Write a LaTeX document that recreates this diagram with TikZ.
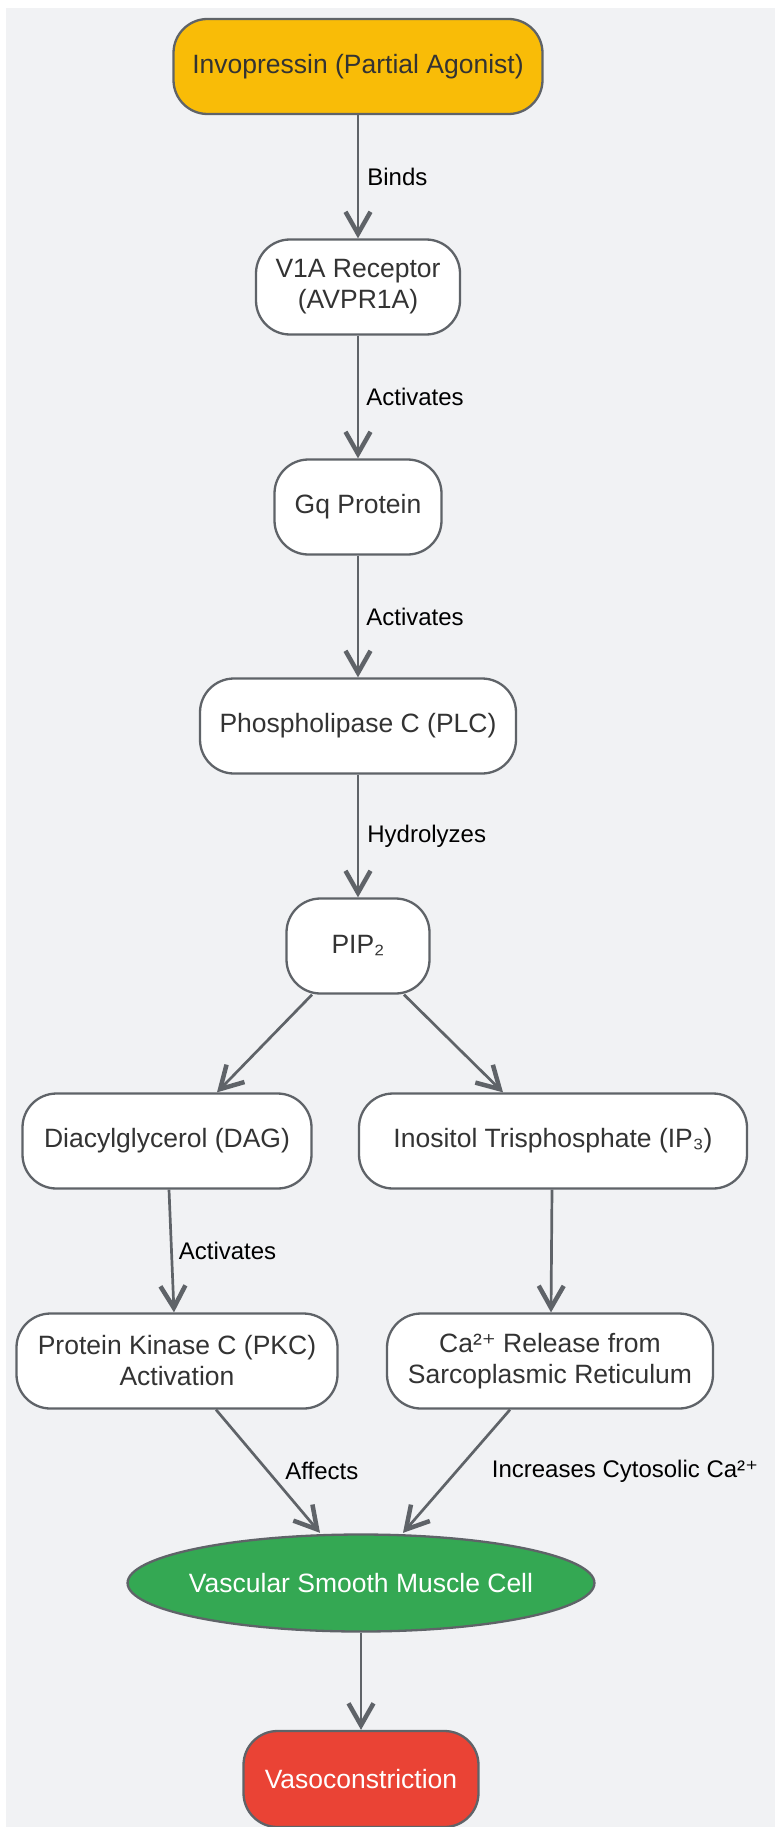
\documentclass[tikz,border=0pt]{standalone}
\usepackage{fontspec}
\setmainfont{Liberation Sans}
\newfontfamily\djv{DejaVu Sans}
\usetikzlibrary{arrows.meta,shapes.geometric}
\definecolor{bgc}{HTML}{F1F2F4}
\definecolor{edgec}{HTML}{5F6368}
\definecolor{yel}{HTML}{F9BC07}
\definecolor{grn}{HTML}{34A853}
\definecolor{redc}{HTML}{EA4335}
\definecolor{txt}{HTML}{333333}
\newcommand\supplus{{\djv ⁺}}
\tikzset{
  box/.style={draw=edgec, line width=2.3pt, rounded corners=34pt, fill=white,
    text=txt, font=\fontsize{26.5}{31}\selectfont, align=center, inner sep=0pt},
  conn/.style={draw=edgec, line width=2.7pt,
    -{Straight Barb[length=22pt, width=25pt, line width=4.5pt]}},
  lab/.style={font=\fontsize{24}{28}\selectfont, text=black, inner sep=0pt, anchor=west}
}
\begin{document}
\begin{tikzpicture}[x=1pt,y=-1pt]
\useasboundingbox (0,0) rectangle (775,1827);
\fill[bgc] (6,8) rectangle (775,1827);
\node[box, fill=yel, minimum width=369pt, minimum height=95pt] (inv) at (358,66.5) {Invopressin (Partial Agonist)};
\node[box, minimum width=204pt, minimum height=95pt] (v1a) at (358,287) {V1A Receptor\\(AVPR1A)};
\node[box, minimum width=167pt, minimum height=95pt] (gq) at (358,507) {Gq Protein};
\node[box, minimum width=316pt, minimum height=95pt] (plc) at (358,726) {Phospholipase C (PLC)};
\node[box, minimum width=143pt, minimum height=95pt] (pip) at (358,946) {PIP₂};
\node[box, minimum width=289pt, minimum height=95pt] (dag) at (167,1141) {Diacylglycerol (DAG)};
\node[box, minimum width=388pt, minimum height=95pt] (ip3) at (553,1141) {Inositol Trisphosphate (IP₃)};
\node[box, minimum width=321pt, minimum height=95pt] (pkc) at (177,1361) {Protein Kinase C (PKC)\\Activation};
\node[box, minimum width=326pt, minimum height=95pt] (ca) at (550,1361) {Ca²\supplus{} Release from\\Sarcoplasmic Reticulum};
\node[ellipse, draw=edgec, line width=2.3pt, fill=grn, text=white, font=\fontsize{26.5}{31}\selectfont,
  minimum height=97pt, inner xsep=-7pt, inner ysep=0pt] (vsmc) at (361,1583) {Vascular Smooth Muscle Cell};
\node[box, fill=redc, text=white, minimum width=235pt, minimum height=96pt] (vaso) at (361,1779) {Vasoconstriction};

\draw[conn] (inv) -- node[lab, right=8pt] {Binds} (v1a);
\draw[conn] (v1a) -- node[lab, right=7pt] {Activates} (gq);
\draw[conn] (gq) -- node[lab, right=7pt] {Activates} (plc);
\draw[conn] (plc) -- node[lab, right=8pt] {Hydrolyzes} (pip);
\draw[conn] ([xshift=-46pt]pip.south) -- ([xshift=50pt]dag.north);
\draw[conn] ([xshift=46pt]pip.south) -- ([xshift=-50pt]ip3.north);
\draw[conn] ([xshift=2pt]dag.south) -- node[lab, right=6pt] {Activates} ([xshift=-3pt]pkc.north);
\draw[conn] ([xshift=-1pt]ip3.south) -- ([xshift=1pt]ca.north);
\draw[conn] ([xshift=39pt]pkc.south) -- node[lab, right=16pt] {Affects} ([xshift=-41pt,yshift=0.5pt]vsmc.north);
\draw[conn] ([xshift=-40pt]ca.south) -- node[lab, right=34pt] {Increases Cytosolic Ca²\supplus} ([xshift=42pt,yshift=0.5pt]vsmc.north);
\draw[conn] (vsmc) -- (vaso);
\end{tikzpicture}
\end{document}
